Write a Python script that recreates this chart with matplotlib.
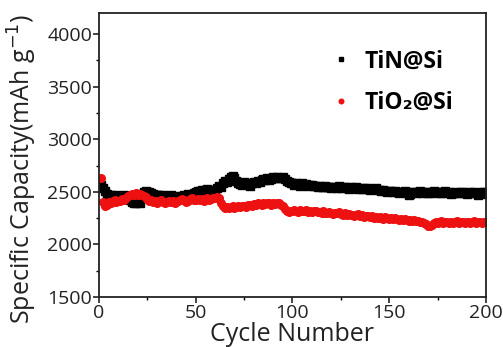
import matplotlib
matplotlib.use("Agg")
import matplotlib.pyplot as plt
from matplotlib.ticker import MultipleLocator
import numpy as np

cycles = list(range(1, 201))

tin_si = [
    2570, 2540, 2510, 2480, 2460, 2470, 2450, 2460, 2470, 2455,
    2460, 2450, 2470, 2460, 2440, 2420, 2400, 2390, 2395, 2400,
    2390, 2480, 2500, 2505, 2495, 2500, 2490, 2480, 2470, 2475,
    2470, 2460, 2470, 2465, 2450, 2460, 2470, 2455, 2460, 2450,
    2455, 2450, 2460, 2470, 2465, 2480, 2470, 2475, 2490, 2500,
    2510, 2505, 2520, 2500, 2515, 2530, 2510, 2520, 2505, 2520,
    2540, 2560, 2550, 2580, 2600, 2590, 2620, 2640, 2650, 2630,
    2600, 2580, 2575, 2570, 2590, 2580, 2575, 2560, 2580, 2590,
    2585, 2600, 2590, 2610, 2620, 2615, 2630, 2610, 2625, 2640,
    2630, 2645, 2635, 2630, 2640, 2620, 2600, 2590, 2580, 2585,
    2570, 2580, 2575, 2560, 2580, 2570, 2575, 2560, 2570, 2565,
    2555, 2560, 2550, 2560, 2545, 2550, 2555, 2545, 2550, 2540,
    2550, 2545, 2540, 2555, 2540, 2545, 2550, 2540, 2530, 2545,
    2540, 2535, 2545, 2530, 2540, 2525, 2535, 2530, 2540, 2520,
    2530, 2525, 2535, 2520, 2515, 2510, 2520, 2505, 2500, 2510,
    2505, 2495, 2510, 2500, 2490, 2500, 2495, 2505, 2490, 2470,
    2480, 2495, 2500, 2490, 2495, 2505, 2490, 2500, 2495, 2485,
    2490, 2500, 2510, 2495, 2490, 2500, 2485, 2495, 2505, 2490,
    2495, 2480, 2490, 2500, 2485, 2490, 2495, 2500, 2485, 2480,
    2490, 2500, 2485, 2495, 2490, 2470, 2485, 2495, 2500, 2480,
]

tio2_si = [
    2630, 2400, 2370, 2380, 2400, 2390, 2410, 2420, 2400, 2415,
    2410, 2430, 2420, 2440, 2460, 2470, 2480, 2475, 2485, 2470,
    2480, 2470, 2460, 2450, 2430, 2410, 2420, 2400, 2410, 2395,
    2410, 2420, 2400, 2390, 2405, 2415, 2400, 2410, 2395, 2400,
    2410, 2420, 2430, 2420, 2400, 2410, 2430, 2440, 2425, 2420,
    2430, 2420, 2435, 2410, 2430, 2440, 2420, 2430, 2445, 2440,
    2450, 2440, 2390, 2370, 2350, 2360, 2345, 2355, 2365, 2350,
    2360, 2370, 2355, 2365, 2370, 2360, 2375, 2380, 2370, 2385,
    2380, 2390, 2385, 2380, 2395, 2385, 2390, 2395, 2380, 2390,
    2385, 2390, 2395, 2380, 2370, 2340, 2320, 2310, 2320, 2315,
    2330, 2320, 2310, 2325, 2315, 2320, 2330, 2310, 2320, 2305,
    2315, 2320, 2305, 2310, 2300, 2315, 2300, 2295, 2310, 2300,
    2290, 2300, 2295, 2305, 2290, 2280, 2295, 2285, 2290, 2280,
    2285, 2275, 2280, 2290, 2270, 2280, 2265, 2275, 2270, 2260,
    2270, 2255, 2265, 2250, 2260, 2255, 2245, 2260, 2250, 2240,
    2250, 2240, 2255, 2245, 2230, 2240, 2235, 2245, 2230, 2220,
    2230, 2225, 2235, 2220, 2225, 2215, 2210, 2200, 2190, 2180,
    2175, 2185, 2200, 2215, 2205, 2210, 2220, 2200, 2215, 2210,
    2205, 2215, 2200, 2210, 2220, 2205, 2215, 2210, 2200, 2215,
    2210, 2205, 2215, 2220, 2200, 2210, 2215, 2205, 2210, 2215,
]

labels = ["TiN@Si", "TiO\u2082@Si"]
x_ticks = [0, 50, 100, 150, 200]
y_ticks = [1500, 2000, 2500, 3000, 3500, 4000]

plt.rcParams['font.family'] = ['Open Sans', 'DejaVu Sans']

fig = plt.figure(figsize=(5.03, 3.47), dpi=100)
ax = fig.add_axes([0.197, 0.144, 0.769, 0.818])

ax.plot(cycles, tin_si, linestyle='none', marker='s', ms=5.5, color='black',
        label=labels[0])
ax.plot(cycles, tio2_si, linestyle='none', marker='o', ms=5.5, color='#ee1111',
        label=labels[1])

ax.set_xlim(0, 200)
ax.set_ylim(1500, 4200)
ax.set_xticks(x_ticks)
ax.set_yticks(y_ticks)
ax.xaxis.set_minor_locator(MultipleLocator(25))
ax.yaxis.set_minor_locator(MultipleLocator(250))
ax.tick_params(axis='both', which='major', direction='out', length=4, width=1.2,
               labelsize=14, colors='#222222', pad=1, top=False, right=False)
ax.tick_params(axis='both', which='minor', direction='out', length=2.5, width=1,
               top=False, right=False)
for s in ax.spines.values():
    s.set_linewidth(1.3)
    s.set_color('#222222')

ax.set_xlabel("Cycle Number", fontsize=18, color='#222222', labelpad=0)
ax.set_ylabel("Specific Capacity(mAh g$^{-1}$)", fontsize=18, color='#222222')
ax.yaxis.set_label_coords(-0.155, 0.45)

leg = ax.legend(loc='upper left', bbox_to_anchor=(0.607, 0.872), frameon=False,
                prop={'weight': 'bold', 'size': 16.5}, handletextpad=0.75,
                labelspacing=0.75, markerscale=0.6, handlelength=0.6,
                borderpad=0, borderaxespad=0)

fig.savefig("out.png", dpi=100)
